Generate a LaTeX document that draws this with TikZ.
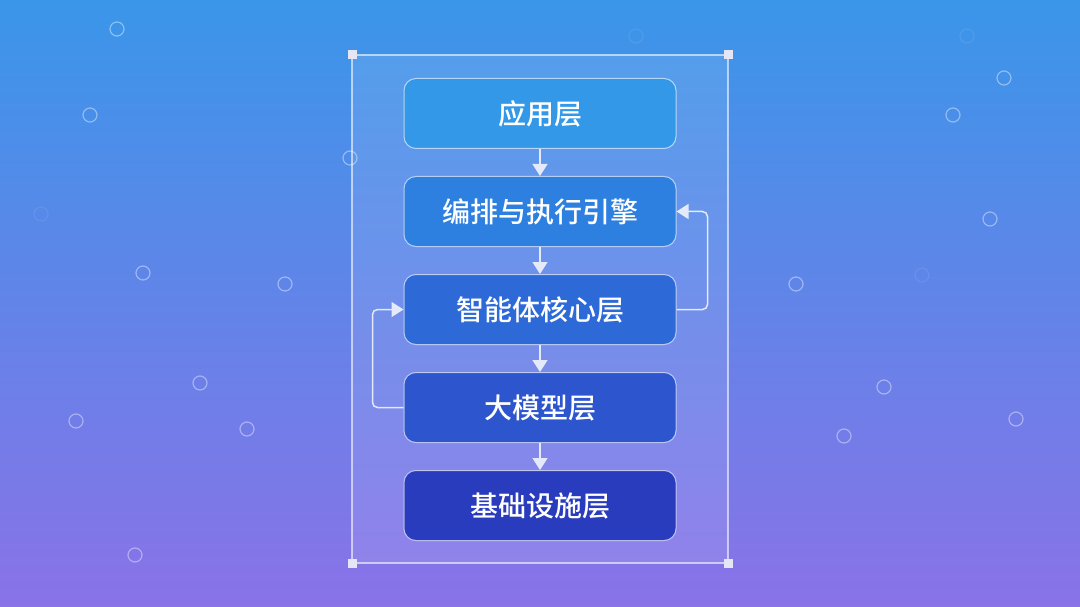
\documentclass[tikz,border=0pt]{standalone}
\usepackage{fontspec}
\setmainfont{Noto Sans CJK SC Medium}
\usetikzlibrary{arrows.meta}
\definecolor{bgtop}{RGB}{58,150,233}
\definecolor{bgmid}{RGB}{92,134,232}
\definecolor{bgbot}{RGB}{138,114,232}
\definecolor{cA}{RGB}{51,152,232}
\definecolor{cB}{RGB}{46,128,224}
\definecolor{cC}{RGB}{45,106,216}
\definecolor{cD}{RGB}{45,86,206}
\definecolor{cE}{RGB}{42,60,190}
\definecolor{linec}{RGB}{228,234,250}
\definecolor{handlec}{RGB}{228,230,245}
\begin{document}
\begin{tikzpicture}[x=1pt,y=-1pt,
  layer/.style={draw=white, draw opacity=0.6, line width=1pt, rounded corners=12pt,
    minimum width=272pt, minimum height=70pt, inner sep=0pt, text=white,
    font=\fontsize{28}{30}\selectfont},
  flow/.style={draw=linec, line width=1.5pt, -{Triangle[length=12pt,width=15pt]}},
  bubble/.style={draw=white, draw opacity=0.4, line width=1.2pt},
  faint/.style={draw=white, draw opacity=0.08, line width=1.2pt},
  handle/.style={fill=handlec, minimum size=9pt, inner sep=0pt, draw=none}]
\useasboundingbox (0,0) rectangle (1080,607);
% background
\shade[top color=bgtop, middle color=bgmid, bottom color=bgbot] (0,0) rectangle (1080,607);
% bubbles
\foreach \x/\y in {117/29, 90/115, 143/273, 285/284, 200/383, 76/421, 247/429, 135/555, 350/158,
  1004/78, 953/115, 990/219, 796/284, 884/387, 1016/419, 844/436}
  \draw[bubble] (\x,\y) circle[radius=7pt];
\foreach \x/\y in {41/214, 636/36, 967/36, 922/275}
  \draw[faint] (\x,\y) circle[radius=7pt];
% selection frame
\draw[fill=white, fill opacity=0.1, draw=white, draw opacity=0.6, line width=1.2pt]
  (352,55) rectangle (728,563);
\node[handle] (h1) at (352,55) {};
\node[handle] (h2) at (728,55) {};
\node[handle] (h3) at (352,563) {};
\node[handle] (h4) at (728,563) {};
% layers
\node[layer, fill=cA] (b1) at (540,113.5) {应用层};
\node[layer, fill=cB] (b2) at (540,211.5) {编排与执行引擎};
\node[layer, fill=cC] (b3) at (540,309.5) {智能体核心层};
\node[layer, fill=cD] (b4) at (540,407.5) {大模型层};
\node[layer, fill=cE] (b5) at (540,505.5) {基础设施层};
% arrows
\draw[flow] (b1) -- (b2);
\draw[flow] (b2) -- (b3);
\draw[flow] (b3) -- (b4);
\draw[flow] (b4) -- (b5);
\draw[flow, rounded corners=5pt] (b3.east) -- ++(31,0) |- (b2.east);
\draw[flow, rounded corners=5pt] (b4.west) -- ++(-31,0) |- (b3.west);
\end{tikzpicture}
\end{document}
